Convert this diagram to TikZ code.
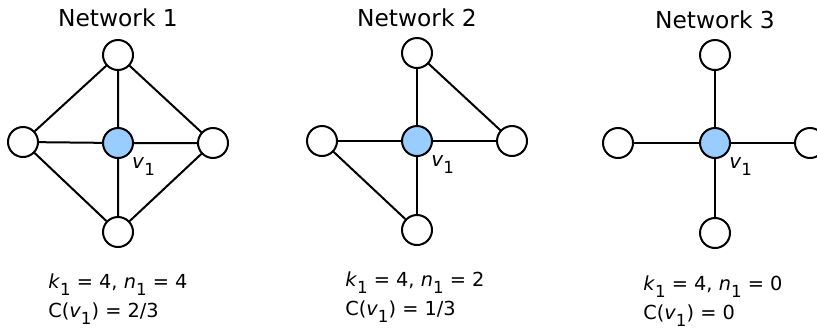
\documentclass[tikz,border=0pt]{standalone}
\usepackage{fontspec}
\setmainfont{DejaVu Sans}
\usepackage{tikz}
\usetikzlibrary{positioning}
\definecolor{hubblue}{HTML}{99CCFF}
\newcommand{\vsub}[2]{\textit{#1}\raisebox{-0.7ex}{\fontsize{12.5}{14}\selectfont #2}}

\begin{document}
\begin{tikzpicture}[x=0.75pt,y=-0.75pt,
    vtx/.style={circle,draw,line width=1.5pt,fill=white,minimum size=22.5pt,inner sep=0pt},
    hub/.style={vtx,fill=hubblue,label={[anchor=north west,inner sep=0pt,xshift=2pt,yshift=-2pt,font=\fontsize{15}{17}\selectfont]south east:\vsub{v}{1}}},
    edge/.style={line width=1.5pt},
    title/.style={font=\fontsize{17.5}{20}\selectfont},
    stat/.style={font=\fontsize{14.5}{17}\selectfont,anchor=base west,inner sep=0pt}]
  \useasboundingbox (0,0) rectangle (817,333);
  % network 1: all neighbours linked in a ring
  \node[title] (t1) at (118,18) {Network 1};
  \node[hub] (c1) at (118,143) {};
  \node[vtx] (n1) at (118,55) {};
  \node[vtx] (w1) at (23,142) {};
  \node[vtx] (e1) at (213,143) {};
  \node[vtx] (s1) at (118,232) {};
  \draw[edge] (c1)--(n1) (c1)--(w1) (c1)--(e1) (c1)--(s1);
  \draw[edge] (n1)--(w1) (n1)--(e1) (w1)--(s1) (e1)--(s1);
  \node[stat] (k1) at (48,288) {\vsub{k}{1} = 4, \vsub{n}{1} = 4};
  \node[stat] (cc1) at (48,317) {C(\vsub{v}{1}) = 2/3};
  % network 2: two neighbour links
  \node[title] (t2) at (417,18) {Network 2};
  \node[hub] (c2) at (417,141) {};
  \node[vtx] (n2) at (417,53) {};
  \node[vtx] (w2) at (322,141) {};
  \node[vtx] (e2) at (512,141) {};
  \node[vtx] (s2) at (417,230) {};
  \draw[edge] (c2)--(n2) (c2)--(w2) (c2)--(e2) (c2)--(s2);
  \draw[edge] (n2)--(e2) (w2)--(s2);
  \node[stat] (k2) at (345,286) {\vsub{k}{1} = 4, \vsub{n}{1} = 2};
  \node[stat] (cc2) at (345,315) {C(\vsub{v}{1}) = 1/3};
  % network 3: plain star
  \node[title] (t3) at (715,20) {Network 3};
  \node[hub] (c3) at (715,143) {};
  \node[vtx] (n3) at (715,55) {};
  \node[vtx] (w3) at (618,143) {};
  \node[vtx] (e3) at (810,143) {};
  \node[vtx] (s3) at (715,233) {};
  \draw[edge] (c3)--(n3) (c3)--(w3) (c3)--(e3) (c3)--(s3);
  \node[stat] (k3) at (643,290) {\vsub{k}{1} = 4, \vsub{n}{1} = 0};
  \node[stat] (cc3) at (643,319) {C(\vsub{v}{1}) = 0};
\end{tikzpicture}
\end{document}
